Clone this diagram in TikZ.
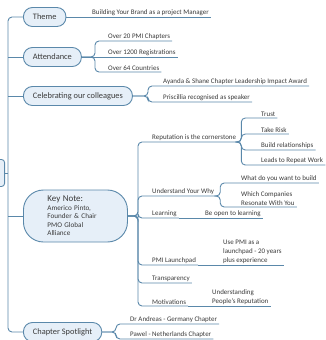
\documentclass[tikz,border=0pt]{standalone}
\usepackage{fontspec}
\setmainfont{Carlito}
\usetikzlibrary{positioning}
\definecolor{mapline}{HTML}{5A88AA}
\definecolor{mapfill}{HTML}{E6EFF8}
\definecolor{maptext}{HTML}{3A3A3A}
\tikzset{
  topic/.style={draw=mapline, fill=mapfill, line width=0.9bp, rounded corners=9bp, minimum height=19bp,
    inner xsep=9.5bp, anchor=west, font=\fontsize{8.4}{10}\selectfont, text=maptext},
  leaf/.style={anchor=south west, inner xsep=2bp, inner ysep=1.5bp, align=left,
    font=\fontsize{7}{9}\selectfont, text=maptext},
  link/.style={draw=mapline, line width=0.9bp, rounded corners=4bp},
}

\begin{document}
\begin{tikzpicture}[x=1bp, y=-1bp]
  \useasboundingbox (0,0) rectangle (326,340);
  \clip (0,0) rectangle (326,340);
  % main topics
  \node[draw=mapline, fill=mapfill, line width=0.9bp, rounded corners=3bp, minimum width=30bp,
    minimum height=27bp, anchor=east] (root) at (5,173) {};
  \node[topic] (theme) at (23,17) {Theme};
  \node[topic] (attend) at (23,57) {Attendance};
  \node[topic] (celeb) at (23,96) {Celebrating our colleagues};
  \node[topic, rounded corners=20bp, minimum width=104bp, minimum height=52bp, text width=56bp,
    inner xsep=24bp, align=left, font=\fontsize{7.2}{8.6}\selectfont] (keynote) at (23,216)
    {{\fontsize{9}{9}\selectfont Key Note:}\\Americo Pinto,\\Founder \& Chair\\PMO Global\\Alliance};
  \node[topic] (spot) at (23,332) {Chapter Spotlight};
  \coordinate (trunk) at (8,173);
  \draw[link] (theme.west) -| (trunk) |- (spot.west);
  \draw[link] (root.east) -- (trunk);
  \foreach \t in {attend, celeb, keynote}
    \draw[link] (\t.west -| trunk) -- (\t.west);

  % theme
  \node[leaf] (brand) at (90,17) {Building Your Brand as a project Manager};
  \draw[link] (theme.east) -- (brand.south east);

  % attendance
  \node[leaf] (chapters) at (106,41) {Over 20 PMI Chapters};
  \node[leaf] (regs) at (106,57) {Over 1200 Registrations};
  \node[leaf] (countries) at (106,72) {Over 64 Countries};
  \coordinate (attfork) at (95,57);
  \draw[link] (attend.east) -- (regs.south east);
  \foreach \c in {chapters, countries}
    \draw[link] (attend.east) -- (attfork) |- (\c.south east);

  % celebrating
  \node[leaf] (award) at (161,86) {Ayanda \& Shane Chapter Leadership Impact Award};
  \node[leaf] (speaker) at (161,102) {Priscillia recognised as speaker};
  \coordinate (celfork) at (148,96);
  \foreach \c in {award, speaker}
    \draw[link] (celeb.east) -- (celfork) |- (\c.south east);

  % key note
  \node[leaf] (rep) at (150,142) {Reputation is the cornerstone};
  \node[leaf] (why) at (150,196) {Understand Your Why};
  \node[leaf] (learn) at (150,218) {Learning};
  \node[leaf] (launch) at (150,265) {PMI Launchpad};
  \node[leaf] (transp) at (150,283) {Transparency};
  \node[leaf] (motiv) at (150,306) {Motivations};
  \coordinate (kfork) at (138,216);
  \foreach \c in {rep, why, learn, launch, transp, motiv}
    \draw[link] (keynote.east) -- (kfork) |- (\c.south east);

  \node[leaf] (trust) at (259,118) {Trust};
  \node[leaf] (risk) at (259,134) {Take Risk};
  \node[leaf] (relations) at (259,150) {Build relationships};
  \node[leaf] (repeat) at (259,165) {Leads to Repeat Work};
  \foreach \c in {trust, risk, relations, repeat}
    \draw[link] (rep.south east) -- ++(3,0) |- (\c.south east);

  \node[leaf] (wantbuild) at (239,183) {What do you want to build};
  \node[leaf] (resonate) at (239,207) {Which Companies\\Resonate With You};
  \foreach \c in {wantbuild, resonate}
    \draw[link] (why.south east) -- ++(4,0) |- (\c.south east);

  \node[leaf] (open) at (203,218) {Be open to learning};
  \draw[link] (learn.south east) -- (open.south east);
  \node[leaf] (pad) at (221,265) {Use PMI as a\\launchpad - 20 years\\plus experience};
  \draw[link] (launch.south east) -- (pad.south east);
  \node[leaf] (people) at (210,306) {Understanding\\People's Reputation};
  \draw[link] (motiv.south east) -- (people.south east);

  % chapter spotlight
  \node[leaf] (germany) at (128,324) {Dr Andreas - Germany Chapter};
  \node[leaf] (nl) at (128,339) {Pawel - Netherlands Chapter};
  \coordinate (spotfork) at (116,332);
  \foreach \c in {germany, nl}
    \draw[link] (spot.east) -- (spotfork) |- (\c.south east);
\end{tikzpicture}
\end{document}
